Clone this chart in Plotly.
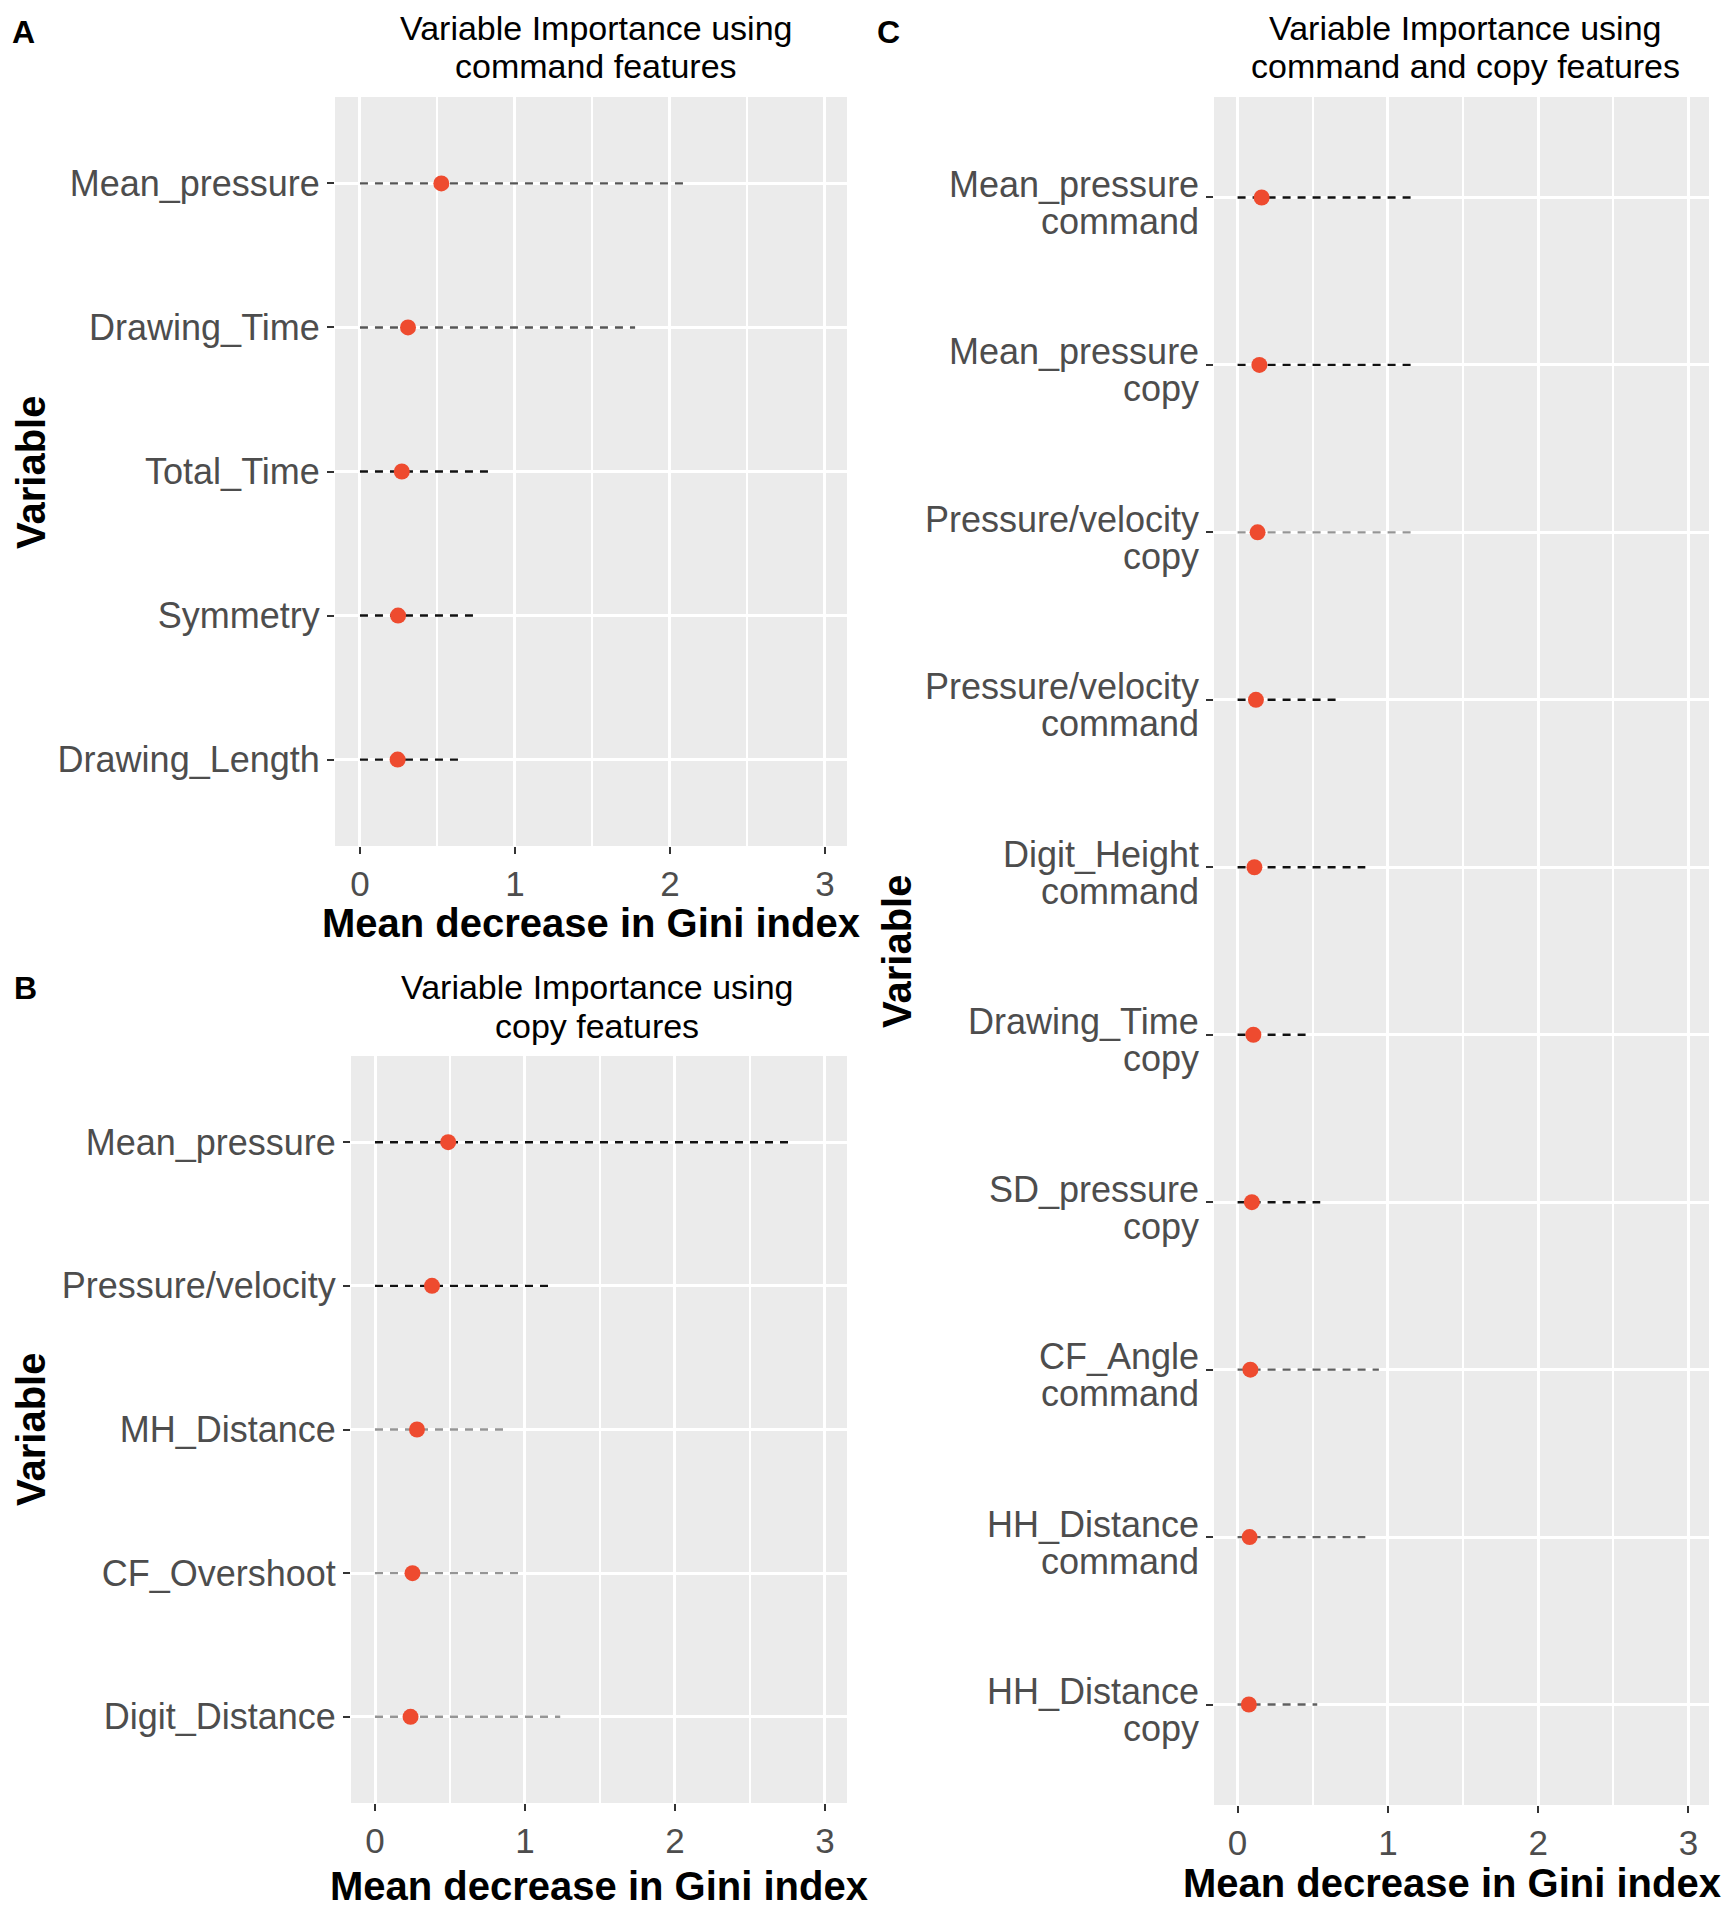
import plotly.graph_objects as go

# ---------------- data ----------------
a_vars = ["Mean_pressure", "Drawing_Time", "Total_Time", "Symmetry", "Drawing_Length"]
a_imp = [0.525, 0.31, 0.27, 0.246, 0.243]
a_end = [2.125, 1.775, 0.84, 0.73, 0.64]

b_vars = ["Mean_pressure", "Pressure/velocity", "MH_Distance", "CF_Overshoot", "Digit_Distance"]
b_imp = [0.488, 0.38, 0.28, 0.25, 0.237]
b_end = [2.77, 1.17, 0.86, 0.97, 1.235]

c_vars = ["Mean_pressure", "Mean_pressure", "Pressure/velocity", "Pressure/velocity", "Digit_Height",
          "Drawing_Time", "SD_pressure", "CF_Angle", "HH_Distance", "HH_Distance"]
c_src = ["command", "copy", "copy", "command", "command", "copy", "copy", "command", "command", "copy"]
c_imp = [0.16, 0.145, 0.133, 0.122, 0.112, 0.105, 0.095, 0.085, 0.08, 0.075]
c_end = [1.16, 1.18, 1.18, 0.66, 0.85, 0.47, 0.55, 0.94, 0.85, 0.53]

x_ticks = [0, 1, 2, 3]
x_minor = [0.5, 1.5, 2.5]

titles = [["Variable Importance using", "command features"],
          ["Variable Importance using", "copy features"],
          ["Variable Importance using", "command and copy features"]]
x_title = "Mean decrease in Gini index"
y_title = "Variable"
panel_letters = ["A", "B", "C"]

# ---------------- styles ----------------
a_line_col = ["#555555", "#555555", "#111111", "#111111", "#111111"]
b_line_col = ["#111111", "#111111", "#959595", "#959595", "#959595"]
c_line_col = ["#111111", "#111111", "#959595", "#111111", "#111111",
              "#111111", "#111111", "#606060", "#606060", "#606060"]

W, H = 1726, 1920
FONT = "Liberation Sans, Arial, sans-serif"
POINT = "#EE4B2F"
TICKCOL = "#4D4D4D"


def fx(p):
    return p / W


def fy(p):
    return 1 - p / H


fig = go.Figure()

c_keys = [f"{v} {s}" for v, s in zip(c_vars, c_src)]

panels = [
    ("x", "y", a_vars, a_imp, a_end, a_line_col),
    ("x2", "y2", b_vars, b_imp, b_end, b_line_col),
    ("x3", "y3", c_keys, c_imp, c_end, c_line_col),
]

for xa, ya, keys, imp, end, cols in panels:
    for k, e, c in zip(keys, end, cols):
        fig.add_trace(go.Scatter(x=[0, e], y=[k, k], mode="lines",
                                 line=dict(color=c, width=2.4, dash="8px,7px"),
                                 xaxis=xa, yaxis=ya, showlegend=False, hoverinfo="skip"))
    fig.add_trace(go.Scatter(x=imp, y=keys, mode="markers",
                             marker=dict(color=POINT, size=16, line=dict(width=0)),
                             xaxis=xa, yaxis=ya, showlegend=False))

# panel geometry (pixels)
geom = {
    "A": dict(x0=335, x1=847, y0=97, y1=846, xr=[-0.161, 3.142]),
    "B": dict(x0=351, x1=847, y0=1056, y1=1803, xr=[-0.16, 3.147]),
    "C": dict(x0=1214, x1=1709, y0=97, y1=1805, xr=[-0.157, 3.137]),
}


def xaxis(g, anchor):
    return dict(domain=[fx(g["x0"]), fx(g["x1"])], range=g["xr"], anchor=anchor,
                tickmode="array", tickvals=x_ticks, ticktext=[str(t) for t in x_ticks],
                ticks="outside", ticklen=7, tickwidth=2, tickcolor="#333333",
                tickfont=dict(size=35, color=TICKCOL, family=FONT),
                showgrid=True, gridcolor="white", gridwidth=2.6,
                minor=dict(tickmode="array", tickvals=x_minor, showgrid=True,
                           gridcolor="white", gridwidth=1.6, ticks=""),
                zeroline=False, showline=False, fixedrange=True)


def yaxis(g, anchor, keys, show_labels=True):
    n = len(keys)
    return dict(domain=[fy(g["y1"]), fy(g["y0"])], anchor=anchor, type="category",
                categoryorder="array", categoryarray=list(reversed(keys)),
                range=[-0.6, n - 0.4],
                ticks="outside", ticklen=7, tickwidth=2, tickcolor="#333333",
                showticklabels=show_labels, ticklabelstandoff=0,
                tickfont=dict(size=36, color=TICKCOL, family=FONT),
                showgrid=True, gridcolor="white", gridwidth=2.6,
                zeroline=False, showline=False, fixedrange=True)


fig.update_layout(
    width=W, height=H,
    margin=dict(l=0, r=0, t=0, b=0),
    paper_bgcolor="white", plot_bgcolor="#EBEBEB",
    font=dict(family=FONT),
    xaxis=xaxis(geom["A"], "y"),
    yaxis=yaxis(geom["A"], "x", a_vars),
    xaxis2=xaxis(geom["B"], "y2"),
    yaxis2=yaxis(geom["B"], "x2", b_vars),
    xaxis3=xaxis(geom["C"], "y3"),
    yaxis3=yaxis(geom["C"], "x3", c_keys, show_labels=False),
)

ann = []
# titles (two lines each)
title_pos = [(596, 28, 66), (597, 987, 1026), (1465, 28, 66)]
for (cx, y1, y2), lines in zip(title_pos, titles):
    for yy, t in zip((y1, y2), lines):
        ann.append(dict(x=fx(cx), y=fy(yy), xref="paper", yref="paper", text=t,
                        showarrow=False, xanchor="center", yanchor="middle",
                        font=dict(size=34, color="black", family=FONT)))
# panel letters
for (lx, ly), L in zip([(23, 32), (25, 988), (889, 32)], panel_letters):
    ann.append(dict(x=fx(lx), y=fy(ly), xref="paper", yref="paper", text=L,
                    showarrow=False, xanchor="center", yanchor="middle",
                    font=dict(size=32, color="black", family=FONT, weight="bold")))
# x axis titles
for (cx, cy) in [(591, 923), (599, 1886), (1452, 1883)]:
    ann.append(dict(x=fx(cx), y=fy(cy), xref="paper", yref="paper", text=x_title,
                    showarrow=False, xanchor="center", yanchor="middle",
                    font=dict(size=40, color="black", family=FONT, weight="bold")))
# y axis titles
for (cx, cy) in [(31, 473), (31, 1430), (897, 951)]:
    ann.append(dict(x=fx(cx), y=fy(cy), xref="paper", yref="paper", text=y_title,
                    textangle=-90, showarrow=False, xanchor="center", yanchor="middle",
                    font=dict(size=40, color="black", family=FONT, weight="bold")))
# two-line category labels for panel C
for k, v, s in zip(c_keys, c_vars, c_src):
    for txt, shift in ((v, 13), (s, -24)):
        ann.append(dict(x=fx(1201), xref="paper", y=k, yref="y3", text=txt,
                        showarrow=False, xanchor="right", yanchor="middle", yshift=shift,
                        font=dict(size=36, color=TICKCOL, family=FONT)))

fig.update_layout(annotations=ann)

fig.write_html("out.html", config={"displayModeBar": False},
               post_script="document.body.style.margin='0';document.body.style.overflow='hidden';")
